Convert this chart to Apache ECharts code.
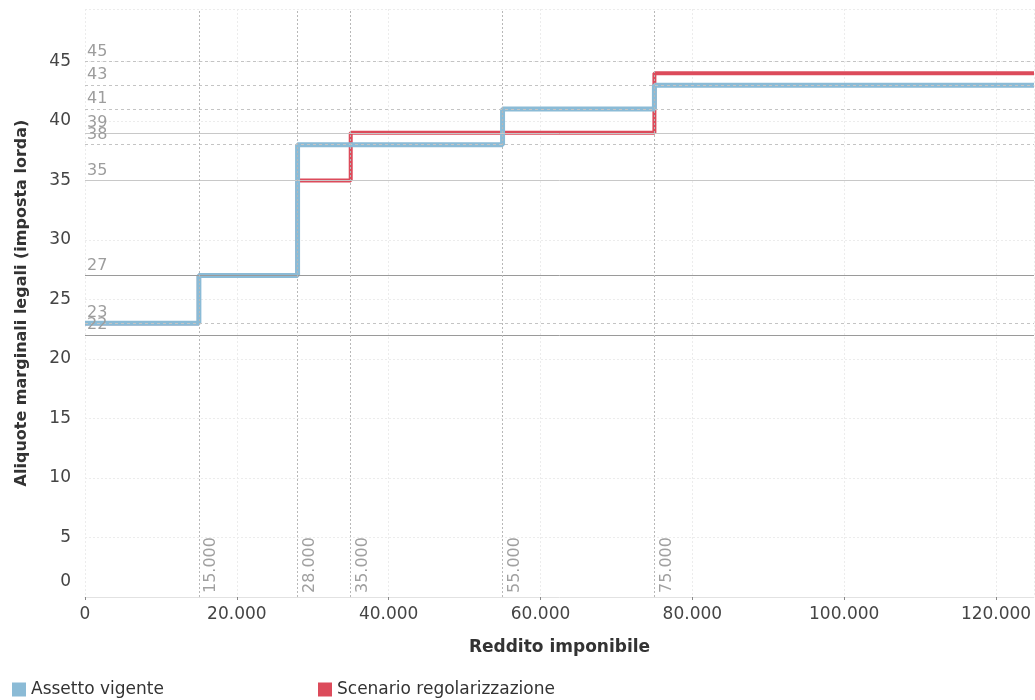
<!DOCTYPE html>
<html>
<head>
<meta charset="utf-8">
<script src="https://cdn.jsdelivr.net/npm/echarts@6/dist/echarts.min.js"></script>
<style>
html,body{margin:0;padding:0;background:#fff;}
#chart{width:1035px;height:700px;}
</style>
</head>
<body>
<div id="chart"></div>
<script>
// ---- data ----
const incomeBreaks = [0, 15000, 28000, 35000, 55000, 75000, 125000];
const assettoVigente = [23, 27, 38, 38, 41, 43, 43];
const scenarioRegolarizzazione = [23, 27, 35, 39, 39, 44, 44];
const seriesNames = ['Assetto vigente', 'Scenario regolarizzazione'];
const rateRefLines = [45, 43, 41, 39, 38, 35, 27, 23, 22];
const incomeRefLines = [15000, 28000, 35000, 55000, 75000];
const xAxisTitle = 'Reddito imponibile';
const yAxisTitle = 'Aliquote marginali legali (imposta lorda)';

// ---- helpers / styles ----
const fmt = v => String(v).replace(/\B(?=(\d{3})+(?!\d))/g, '.');
const FONT = 'DejaVu Sans';
const solidDark = [27, 22];
const solidLight = [39, 35];
function hStyle(v) {
  if (solidDark.includes(v)) return {color: '#9a9a9a', type: 'solid', width: 1};
  if (solidLight.includes(v)) return {color: '#c8c8c8', type: 'solid', width: 1};
  return {color: '#c4c4c4', type: [3, 3], width: 1};
}

const pts = arr => incomeBreaks.map((x, i) => [x, arr[i]]);

const chart = echarts.init(document.getElementById('chart'), null, {renderer: 'canvas'});
chart.setOption({
  animation: false,
  backgroundColor: '#ffffff',
  textStyle: {fontFamily: FONT},
  grid: {left: 85, right: 1, top: 9, bottom: 103, containLabel: false},
  legend: [
    {data: [seriesNames[0]], left: 7, top: 676, icon: 'rect', itemWidth: 14, itemHeight: 14, itemGap: 10,
     textStyle: {fontFamily: FONT, fontSize: 17, color: '#333'}},
    {data: [seriesNames[1]], left: 313, top: 676, icon: 'rect', itemWidth: 14, itemHeight: 14,
     textStyle: {fontFamily: FONT, fontSize: 17, color: '#333'}}
  ],
  xAxis: {
    type: 'value', min: 0, max: 125000, interval: 20000,
    name: xAxisTitle, nameLocation: 'middle', nameGap: 42,
    nameTextStyle: {fontFamily: FONT, fontSize: 17, fontWeight: 'bold', color: '#333'},
    axisLine: {show: true, lineStyle: {color: '#e2e2e2'}},
    axisTick: {show: true, length: 3, lineStyle: {color: '#888'}},
    axisLabel: {formatter: fmt, fontSize: 17, color: '#444', margin: 9, showMaxLabel: false},
    splitLine: {show: true, lineStyle: {color: '#ececec', type: [2, 2]}}
  },
  yAxis: {
    type: 'value', min: 0, max: 49.4, interval: 5,
    name: yAxisTitle, nameLocation: 'middle', nameGap: 55, nameRotate: 90,
    nameTextStyle: {fontFamily: FONT, fontSize: 16, fontWeight: 'bold', color: '#333'},
    axisLine: {show: false},
    axisTick: {show: false},
    axisLabel: {
      fontSize: 17, color: '#444', margin: 14, showMaxLabel: false,
      formatter: v => v === 0 ? '{z|0}' : String(v),
      rich: {z: {fontSize: 17, color: '#444', fontFamily: FONT, padding: [0, 0, 30, 0]}}
    },
    splitLine: {show: true, lineStyle: {color: '#ececec', type: [2, 2]}}
  },
  series: [
    {
      name: 'refs', type: 'line', data: [], silent: true, z: 1,
      markLine: {
        silent: true, symbol: 'none', animation: false,
        data: [
          ...rateRefLines.map(v => ({
            yAxis: v, lineStyle: hStyle(v),
            label: {show: true, formatter: String(v), position: 'insideStartTop', distance: [2, 2],
                    color: '#9d9d9d', fontSize: 16, fontFamily: FONT}
          })),
          ...incomeRefLines.map(v => ({
            xAxis: v, lineStyle: {color: '#b8b8b8', type: [2, 2], width: 1},
            label: {show: true, formatter: fmt(v), position: 'insideStartBottom', distance: [4, 4],
                    color: '#a0a0a0', fontSize: 16, fontFamily: FONT}
          }))
        ]
      }
    },
    {
      name: seriesNames[1], type: 'line', step: 'end', data: pts(scenarioRegolarizzazione),
      showSymbol: false, z: 2, color: '#dc4b5b',
      lineStyle: {width: 4, color: '#dc4b5b'}, itemStyle: {color: '#dc4b5b'}
    },
    {
      name: seriesNames[0], type: 'line', step: 'end', data: pts(assettoVigente),
      showSymbol: false, z: 3, color: '#8bbbd6',
      lineStyle: {width: 5, color: '#8bbbd6'}, itemStyle: {color: '#8bbbd6'}
    }
  ]
});
</script>
</body>
</html>
